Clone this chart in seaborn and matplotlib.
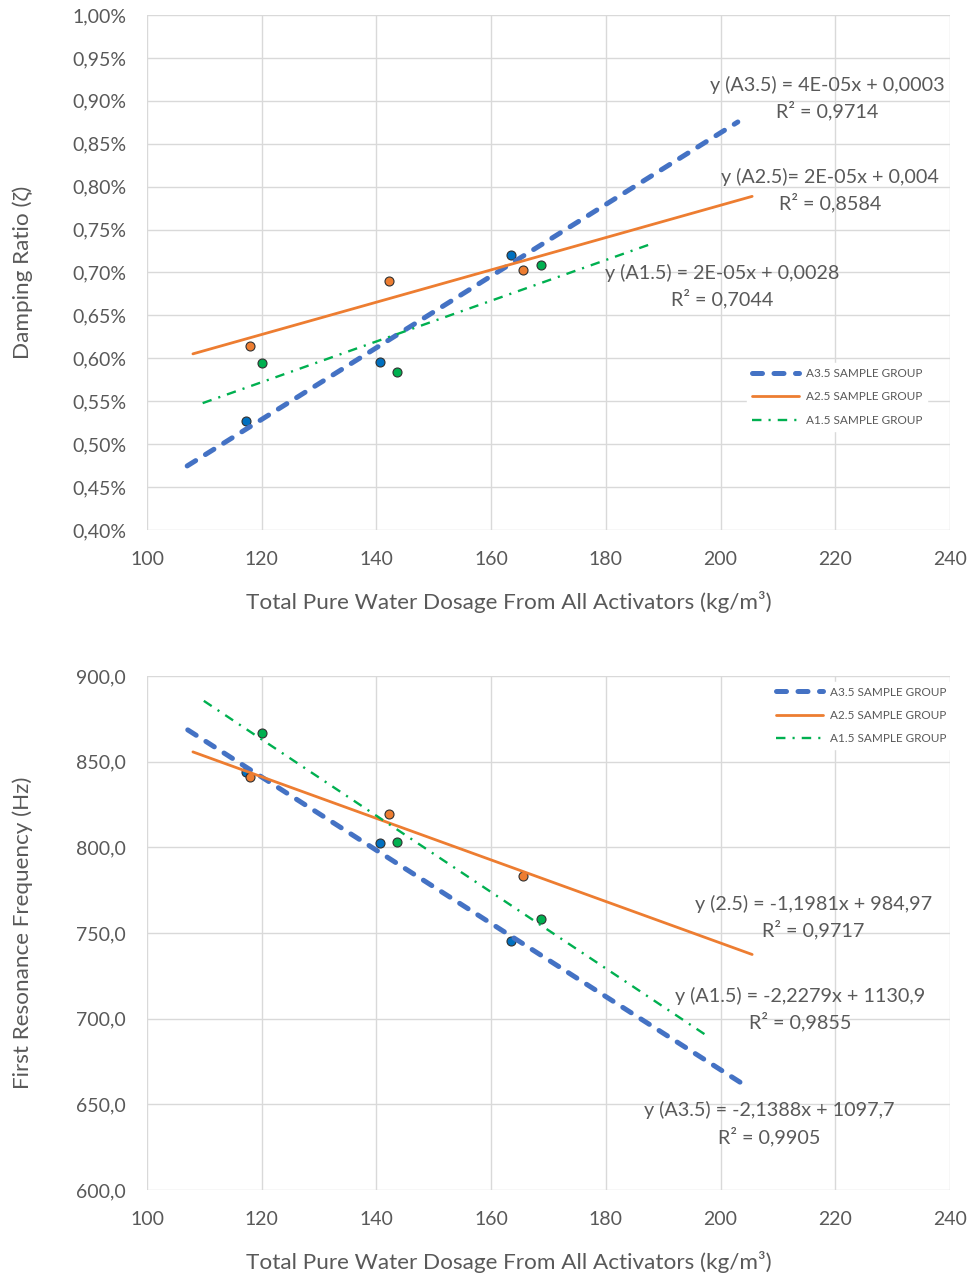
import numpy as np
import pandas as pd
import matplotlib
matplotlib.use("Agg")
import matplotlib.pyplot as plt
import seaborn as sns
from matplotlib.ticker import FuncFormatter, MultipleLocator

# ── DATA ─────────────────────────────────────────────────────
groups = ["A3.5", "A2.5", "A1.5"]
legend_names = ["A3.5 SAMPLE GROUP", "A2.5 SAMPLE GROUP", "A1.5 SAMPLE GROUP"]

water_a35 = [117.3, 140.6, 163.5]
water_a25 = [118.0, 142.2, 165.5]
water_a15 = [120.0, 143.6, 168.6]

damping_a35 = [0.527, 0.596, 0.720]     # %
damping_a25 = [0.614, 0.690, 0.703]
damping_a15 = [0.595, 0.584, 0.709]

freq_a35 = [844.0, 802.5, 745.3]        # Hz
freq_a25 = [841.0, 819.4, 783.3]
freq_a15 = [866.7, 803.1, 758.2]

# trendline extents (x from / to) as drawn in the original
damp_extent = {"A3.5": (107.0, 203.0), "A2.5": (108.0, 205.5), "A1.5": (109.7, 187.5)}
freq_extent = {"A3.5": (107.1, 203.5), "A2.5": (108.0, 205.5), "A1.5": (109.9, 197.8)}

damp_eq = ["y (A3.5) = 4E-05x + 0,0003\nR² = 0,9714",
           "y (A2.5)= 2E-05x + 0,004\nR² = 0,8584",
           "y (A1.5) = 2E-05x + 0,0028\nR² = 0,7044"]
freq_eq = ["y (A3.5) = -2,1388x + 1097,7\nR² = 0,9905",
           "y (2.5) = -1,1981x + 984,97\nR² = 0,9717",
           "y (A1.5) = -2,2279x + 1130,9\nR² = 0,9855"]

df = pd.DataFrame({
    "group": np.repeat(groups, 3),
    "water": water_a35 + water_a25 + water_a15,
    "damping": damping_a35 + damping_a25 + damping_a15,
    "freq": freq_a35 + freq_a25 + freq_a15,
})

# ── STYLE ────────────────────────────────────────────────────
sns.set_theme(style="white")
plt.rcParams["font.family"] = ["Lato", "DejaVu Sans"]
TXT = "#595959"
GRID = "#d9d9d9"
marker_colors = {"A3.5": "#0070C0", "A2.5": "#ED7D31", "A1.5": "#00B050"}
line_styles = {
    "A3.5": dict(color="#4472C4", lw=3.6, dashes=(2.0, 2.3), dash_capstyle="round"),
    "A2.5": dict(color="#ED7D31", lw=2.0, ls="-"),
    "A1.5": dict(color="#00B050", lw=1.7, dashes=(4.0, 3.0, 0.9, 3.0)),
}

fig = plt.figure(figsize=(9.75, 12.79), dpi=100)
ax1 = fig.add_axes([0.1508, 0.5856, 0.8236, 0.4027])
ax2 = fig.add_axes([0.1508, 0.0696, 0.8236, 0.4019])


def draw_panel(ax, ycol, extent, eqs, eq_pos, ylim, ystep, yfmt, ylabel, leg_anchor):
    handles = []
    z = 2
    for g, name in zip(groups, legend_names):
        sub = df[df["group"] == g]
        sns.scatterplot(data=sub, x="water", y=ycol, ax=ax, color=marker_colors[g],
                        s=42, edgecolor="#303030", linewidth=0.8, zorder=z, legend=False)
        k, b = np.polyfit(sub["water"], sub[ycol], 1)
        xs = np.array(extent[g])
        ln, = ax.plot(xs, k * xs + b, zorder=z + 1, label=name, **line_styles[g])
        handles.append(ln)
        z += 2

    for txt, (tx, ty) in zip(eqs, eq_pos):
        ax.text(tx, ty, txt, ha="center", va="center", fontsize=14.2, color=TXT,
                linespacing=1.45, zorder=10)

    ax.set_xlim(100, 240)
    ax.set_ylim(*ylim)
    ax.xaxis.set_major_locator(MultipleLocator(20))
    ax.yaxis.set_major_locator(MultipleLocator(ystep))
    ax.yaxis.set_major_formatter(FuncFormatter(yfmt))
    ax.grid(True, color=GRID, lw=1.0)
    ax.set_axisbelow(True)
    for sp in ax.spines.values():
        sp.set_visible(False)
    ax.tick_params(length=0, labelsize=14, labelcolor=TXT, pad=15)

    ax.set_xlabel("Total Pure Water Dosage From All Activators (kg/m³)", fontsize=16.2, color=TXT)
    ax.set_ylabel(ylabel, fontsize=16.2, color=TXT)
    ax.xaxis.set_label_coords(0.45, -0.118)
    ax.yaxis.set_label_coords(-0.142, 0.5)

    leg = ax.legend(handles=handles, loc="upper left", bbox_to_anchor=leg_anchor,
                    frameon=True, fontsize=8.5, handlelength=4.0, labelspacing=1.05,
                    borderpad=0.4, handletextpad=0.6)
    leg.get_frame().set_edgecolor("white")
    leg.get_frame().set_facecolor("white")
    leg.get_frame().set_alpha(1.0)
    for t in leg.get_texts():
        t.set_color(TXT)
    leg.set_zorder(9)


# ── TOP: DAMPING RATIO ───────────────────────────────────────
draw_panel(ax1, "damping", damp_extent, damp_eq,
           [(218.6, 0.903), (219.1, 0.796), (200.3, 0.684)],
           (0.40, 1.00), 0.05, lambda v, p: f"{v:.2f}%".replace(".", ","),
           "Damping Ratio (ζ)", (0.74, 0.335))

# ── BOTTOM: RESONANCE FREQUENCY ──────────────────────────────
draw_panel(ax2, "freq", freq_extent, freq_eq,
           [(208.4, 638.5), (216.2, 759.3), (213.9, 705.6)],
           (600, 900), 50, lambda v, p: f"{v:.1f}".replace(".", ","),
           "First Resonance Frequency (Hz)", (0.77, 1.0))

plt.savefig("out.png", dpi=100)
